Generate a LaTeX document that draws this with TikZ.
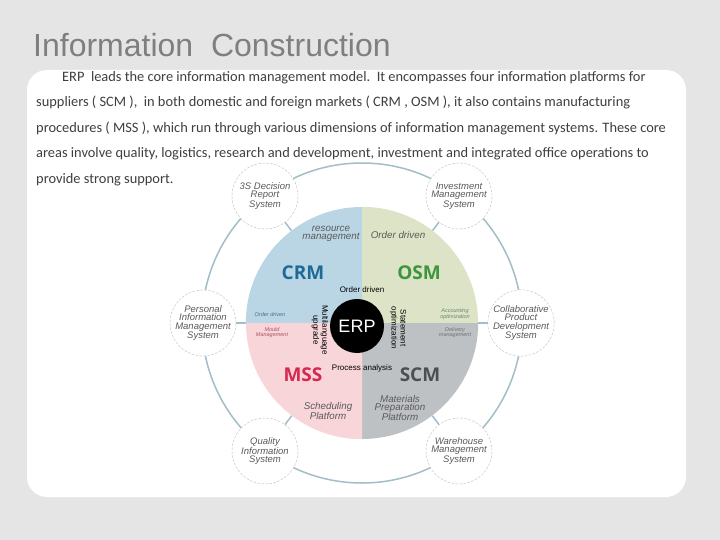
\documentclass[tikz,border=0pt]{standalone}
\usepackage{fontspec}
\setmainfont{Liberation Sans}
\newfontfamily\bodyfont{Carlito}
\newfontfamily\quadfont{Open Sans}
\definecolor{pagegray}{HTML}{E5E5E5}
\definecolor{titlegray}{HTML}{7F7F7F}
\definecolor{bodytext}{HTML}{3F3F3F}
\definecolor{ringblue}{HTML}{A3BDC9}
\definecolor{satgray}{HTML}{BDBDBD}
\definecolor{sattext}{HTML}{5A5A5A}
\definecolor{crmfill}{HTML}{BAD6E4}
\definecolor{osmfill}{HTML}{DCE3C7}
\definecolor{mssfill}{HTML}{F8D5D9}
\definecolor{scmfill}{HTML}{BEC1C4}
\definecolor{crmtext}{HTML}{1D6A97}
\definecolor{osmtext}{HTML}{3B963C}
\definecolor{msstext}{HTML}{D62750}
\definecolor{scmtext}{HTML}{4B4F54}
\begin{document}
\begin{tikzpicture}[x=1pt, y=-1pt,
  bodyline/.style={anchor=base west, inner sep=0pt, text=bodytext, font=\bodyfont\fontsize{14.4}{14.4}\selectfont},
  satellite/.style={circle, draw=satgray, dash pattern=on 2.5pt off 1.5pt, fill=white, minimum size=66pt, inner sep=0pt, align=center, text=sattext, font=\itshape\fontsize{9.5}{8.6}\selectfont},
  spoke/.style={draw=ringblue, line width=1.5pt},
  quadlabel/.style={font=\quadfont\bfseries\fontsize{19}{19}\selectfont},
  quadtag/.style={align=center, text=sattext, font=\itshape\fontsize{9.8}{8.4}\selectfont},
  tinytag/.style={align=center, font=\itshape\fontsize{5.5}{5}\selectfont},
  erptag/.style={align=center, inner sep=0pt, font=\fontsize{8}{9}\selectfont}]
  \useasboundingbox (0,0) rectangle (720,540);
  \fill[pagegray] (0,0) rectangle (720,540);
  \fill[white, rounded corners=20pt] (27,70) rectangle (686,497);
  \node[anchor=base west, inner sep=0pt, text=titlegray, font=\fontsize{32}{32}\selectfont] (title) at (33,57) {Information\ \ Construction};
  \node[bodyline] (line1) at (62,82) {ERP\ \ leads the core information management model.\ \ It encompasses four information platforms for};
  \node[bodyline] (line2) at (36,107) {suppliers ( SCM ),\ \ in both domestic and foreign markets ( CRM , OSM ), it also contains manufacturing};
  \node[bodyline] (line3) at (36,133) {procedures ( MSS ), which run through various dimensions of information management systems. These core};
  \node[bodyline] (line4) at (36,158) {areas involve quality, logistics, research and development, investment and integrated office operations to};
  \node[bodyline] (line5) at (36,184) {provide strong support.};
  \node[circle, draw=ringblue, line width=1.5pt, minimum size=320pt, inner sep=0pt] (ring) at (362,323) {};
  \node[circle, minimum size=232pt, inner sep=0pt] (core) at (362,323) {};
  \node[satellite] (decision) at (265,196) {3S Decision\\Report\\System};
  \node[satellite] (invest) at (459,196) {Investment\\Management\\System};
  \node[satellite] (personal) at (203,323) {Personal\\Information\\Management\\System};
  \node[satellite] (collab) at (521,323) {Collaborative\\Product\\Development\\System};
  \node[satellite] (quality) at (265,451) {Quality\\Information\\System};
  \node[satellite] (warehouse) at (459,451) {Warehouse\\Management\\System};
  \draw[spoke] (core) -- (decision);
  \draw[spoke] (core) -- (invest);
  \draw[spoke] (core) -- (personal);
  \draw[spoke] (core) -- (collab);
  \draw[spoke] (core) -- (quality);
  \draw[spoke] (core) -- (warehouse);
  \fill[crmfill] (core.center) -- (core.west) arc[start angle=180, end angle=270, radius=116] -- cycle;
  \fill[osmfill] (core.center) -- (core.north) arc[start angle=270, end angle=360, radius=116] -- cycle;
  \fill[scmfill] (core.center) -- (core.east) arc[start angle=0, end angle=90, radius=116] -- cycle;
  \fill[mssfill] (core.center) -- (core.south) arc[start angle=90, end angle=180, radius=116] -- cycle;
  \node[quadlabel, text=crmtext] (crm) at (303,273) {CRM};
  \node[quadlabel, text=osmtext] (osm) at (419,273) {OSM};
  \node[quadlabel, text=msstext] (mss) at (303,375) {MSS};
  \node[quadlabel, text=scmtext] (scm) at (420,375) {SCM};
  \node[quadtag] (resource) at (331,234) {resource\\management};
  \node[quadtag] (orderosm) at (398,235) {Order driven};
  \node[quadtag] (scheduling) at (328,411) {Scheduling\\Platform};
  \node[quadtag] (materials) at (400,408) {Materials\\Preparation\\Platform};
  \node[tinytag, text=crmtext!60!gray] (ordercrm) at (270,315) {Order driven};
  \node[tinytag, text=msstext!50!gray] (mould) at (272,333) {Mould\\Management};
  \node[tinytag, text=osmtext!30!gray] (accounting) at (455,314) {Accounting\\optimization};
  \node[tinytag, text=scmtext!80!white] (delivery) at (455,333) {Delivery\\management};
  \node[circle, fill=black, minimum size=54pt, inner sep=0pt, text=white, font=\fontsize{18}{18}\selectfont] (erp) at (357,326) {ERP};
  \node[erptag] (ordererp) at (362,290) {Order driven};
  \node[erptag] (process) at (362,368) {Process analysis};
  \node[erptag, rotate=-90] (multi) at (320,330) {Multilanguage\\upgrade};
  \node[erptag, rotate=-90] (statement) at (398,328) {Statement\\optimization};
\end{tikzpicture}
\end{document}
